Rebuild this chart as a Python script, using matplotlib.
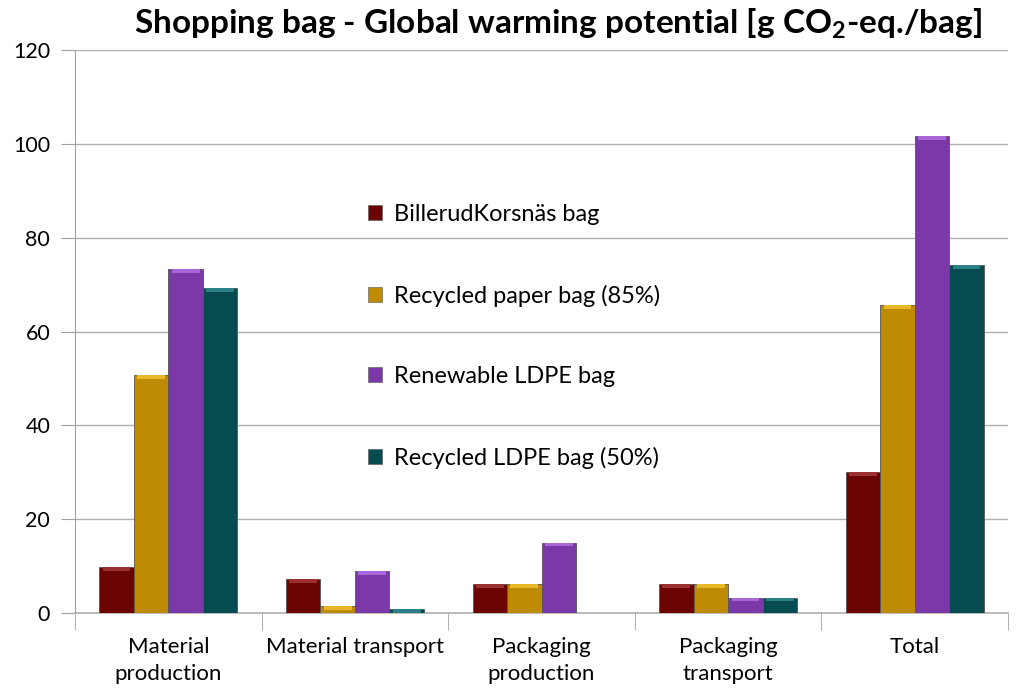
import numpy as np
import matplotlib.pyplot as plt

plt.rcParams['font.family'] = ['Lato', 'DejaVu Sans']
plt.rcParams['mathtext.fontset'] = 'custom'
plt.rcParams['mathtext.rm'] = 'Lato'
plt.rcParams['mathtext.bf'] = 'Lato:bold'

categories = ["Material\nproduction", "Material transport", "Packaging\nproduction",
              "Packaging\ntransport", "Total"]
series_names = ["BillerudKorsnäs bag", "Recycled paper bag (85%)",
                "Renewable LDPE bag", "Recycled LDPE bag (50%)"]
billerud = [9.8, 7.2, 6.1, 6.1, 30.0]
recycled_paper = [50.7, 1.5, 6.1, 6.1, 65.7]
renewable_ldpe = [73.3, 9.0, 15.0, 3.3, 101.7]
recycled_ldpe = [69.3, 0.9, 0.0, 3.3, 74.2]
colors = ["#6B0303", "#BF8A04", "#7A38A8", "#064B4F"]
tops = ["#9A3030", "#E8B828", "#A866D8", "#2A8084"]

fig = plt.figure(figsize=(10.16, 6.88), dpi=100)
ax = fig.add_axes([0.074, 0.109, 0.918, 0.818])

x = np.arange(len(categories))
w = 0.185
data = [billerud, recycled_paper, renewable_ldpe, recycled_ldpe]
for i, vals in enumerate(data):
    pos = x + (i - 1.5) * w
    ax.bar(pos, vals, w, color=colors[i], edgecolor="#555555", linewidth=0.6,
           label=series_names[i], zorder=3)
    # thin lighter strip on top of each bar (bevel look)
    vals = np.array(vals)
    strip = np.minimum(vals, 0.8)
    ax.bar(pos[vals > 0], strip[vals > 0], w * 0.8, bottom=(vals - strip)[vals > 0],
           color=tops[i], linewidth=0, zorder=4)

ax.set_xlim(-0.5, len(categories) - 0.5)
ax.set_ylim(0, 120)
ax.set_yticks(np.arange(0, 121, 20))
ax.yaxis.grid(True, color="#B0B0B0", linewidth=1, zorder=0)
ax.set_axisbelow(True)
for s in ["top", "right"]:
    ax.spines[s].set_visible(False)
ax.spines["left"].set_color("#A0A0A0")
ax.spines["bottom"].set_color("#B0B0B0")
ax.spines["bottom"].set_linewidth(1.2)

ax.set_xticks(x)
ax.set_xticklabels(categories, fontsize=16, linespacing=1.45)
ax.set_xticks(np.arange(-0.5, len(categories)), minor=True)
ax.tick_params(axis="x", which="major", length=0, pad=17)
ax.tick_params(axis="x", which="minor", length=12, color="#A0A0A0", direction="out")
ax.tick_params(axis="y", length=10, color="#A0A0A0", labelsize=15.5, pad=8)

leg = ax.legend(loc="upper left", bbox_to_anchor=(0.291, 0.765), frameon=False,
                fontsize=17, labelspacing=2.53, handlelength=0.6, handleheight=0.6,
                handletextpad=0.5)
for h in leg.legend_handles:
    h.set_linewidth(0.4)

fig.text(0.549, 0.965, r"Shopping bag - Global warming potential [g CO$_\mathbf{2}$-eq./bag]",
         ha="center", va="center", fontsize=24, fontweight="bold")

fig.savefig("out.png", dpi=100)
